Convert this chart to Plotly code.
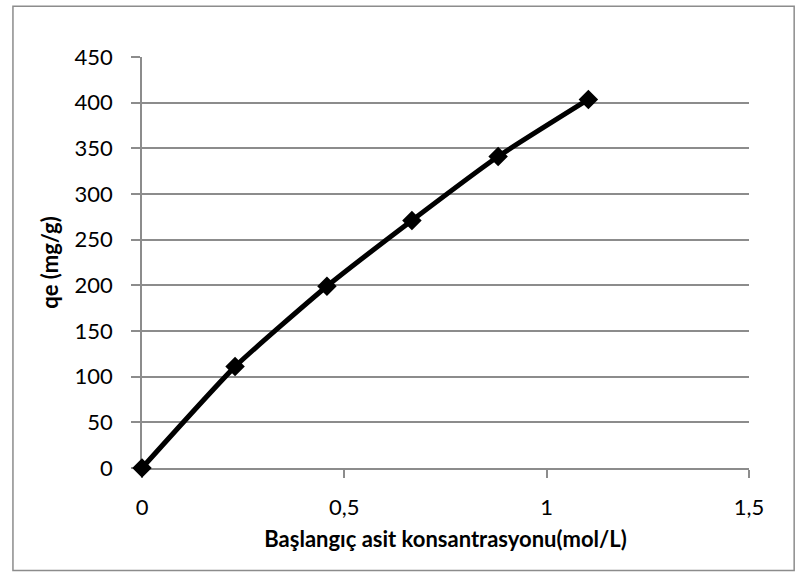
import plotly.graph_objects as go

# Data
x_conc = [0, 0.23, 0.457, 0.667, 0.88, 1.103]
qe = [0, 111, 199, 271, 341, 403.5]

x_ticks = [0, 0.5, 1, 1.5]
x_ticklabels = ["0", "0,5", "1", "1,5"]
y_ticks = [0, 50, 100, 150, 200, 250, 300, 350, 400, 450]

x_title = "Başlangıç asit konsantrasyonu(mol/L)"
y_title = "qe (mg/g)"

FONT = "Lato"
GRAY = "#8c8c8c"

fig = go.Figure()
fig.add_trace(go.Scatter(
    x=x_conc, y=qe, mode="lines+markers",
    line=dict(color="black", width=5, shape="spline", smoothing=0.5),
    marker=dict(symbol="diamond", size=15, color="black"),
    cliponaxis=False, showlegend=False,
))

fig.update_layout(
    width=795, height=573,
    margin=dict(l=142, r=46, t=57, b=105),
    paper_bgcolor="white", plot_bgcolor="white",
    font=dict(family=FONT, size=22, color="black"),
    separators=",.",
    xaxis=dict(
        range=[0, 1.5], tickvals=x_ticks, ticktext=x_ticklabels,
        showgrid=False, zeroline=False, layer="below traces",
        showline=True, linecolor=GRAY, linewidth=1.5,
        ticks="outside", ticklen=8, tickcolor=GRAY, tickwidth=1.5,
        ticklabelstandoff=11,
        title=dict(text="<b>" + x_title + "</b>", font=dict(size=22), standoff=12),
    ),
    yaxis=dict(
        range=[0, 450], tickvals=y_ticks,
        showgrid=True, gridcolor=GRAY, gridwidth=1.5, zeroline=False,
        layer="below traces",
        showline=True, linecolor=GRAY, linewidth=1.5,
        ticks="outside", ticklen=9, tickcolor=GRAY, tickwidth=1.5,
        ticklabelstandoff=14,
        title=dict(text="<b>" + y_title + "</b>", font=dict(size=22), standoff=10),
    ),
    shapes=[dict(
        type="rect", xref="paper", yref="paper",
        x0=-0.2126, x1=1.0744, y0=-0.2494, y1=1.1234,
        line=dict(color=GRAY, width=1.5), fillcolor="rgba(0,0,0,0)", layer="below",
    )],
)

fig.write_html("out.html")
